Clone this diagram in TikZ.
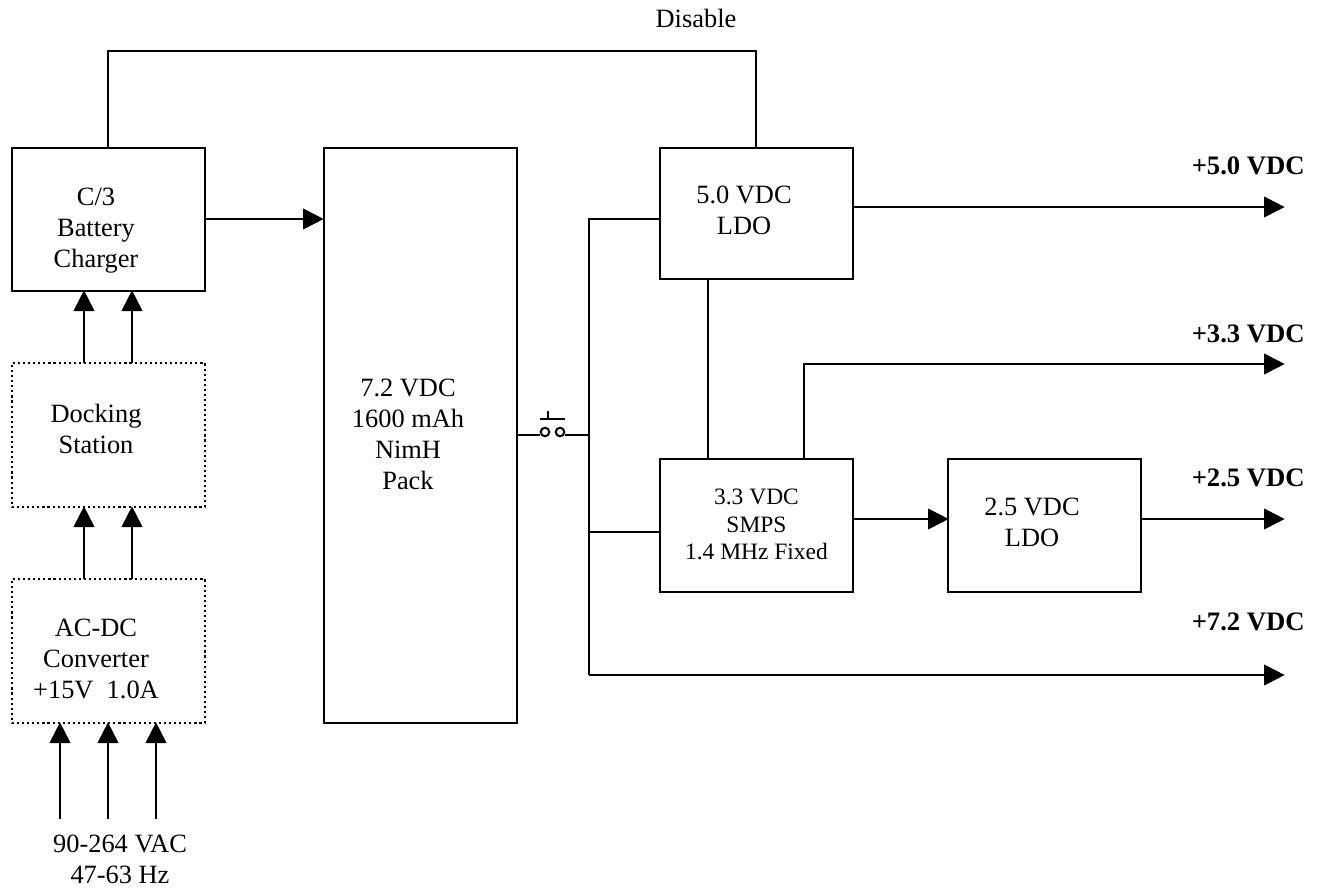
\documentclass[tikz,border=0pt]{standalone}
\usepackage{fontspec}
\setmainfont{Liberation Serif}
\usetikzlibrary{arrows.meta}
\begin{document}
\begin{tikzpicture}[x=0.75pt,y=-0.75pt,
  wire/.style={line width=1.5pt,line cap=butt},
  arr/.style={wire,-{Triangle[length=15.5pt,width=15.5pt]},shorten >=-0.5pt},
  boxa/.style={draw,line width=1.5pt,minimum width=144.75pt,inner sep=0pt},
  boxd/.style={boxa,line width=1.8pt,dash pattern=on 1.6pt off 2.2pt},
  txt/.style={inner sep=0pt,align=center,font=\fontsize{19.8}{23.25}\selectfont},
  txts/.style={inner sep=0pt,align=center,font=\fontsize{17.6}{20.6}\selectfont},
  lab/.style={inner sep=0pt,font=\fontsize{20}{23.25}\selectfont\bfseries},
  swc/.style={draw,line width=1.5pt,circle,minimum size=6.4pt,inner sep=0pt}]
\useasboundingbox (0,0) rectangle (1322,892);
\node[boxa,minimum height=107.25pt] (chg) at (108.5,219.5) {};
\node[boxa,minimum height=431.25pt] (bat) at (420.5,435.5) {};
\node[boxa,minimum height=98.25pt] (ldo5) at (756.5,213.5) {};
\node[boxa,minimum height=99.75pt] (smps) at (756.5,525.5) {};
\node[boxa,minimum height=99.75pt] (ldo25) at (1044.5,525.5) {};
\node[boxd,minimum height=108pt] (dock) at (108.5,435) {};
\node[boxd,minimum height=108pt] (acdc) at (108.5,651) {};
\node[txt] (chgT) at (96,231) {C/3\\Battery\\Charger};
\node[txt] (batT) at (408,434.5) {7.2 VDC\\1600 mAh\\NimH\\Pack};
\node[txt] (ldo5T) at (744,210) {5.0 VDC\\LDO};
\node[txts] (smpsT) at (756.5,524.5) {3.3 VDC\\SMPS\\1.4 MHz Fixed};
\node[txt] (ldo25T) at (1032,522.5) {2.5 VDC\\LDO};
\node[txt] (dockT) at (96,428.5) {Docking\\Station};
\node[txt] (acdcT) at (96,659) {AC-DC\\Converter\\+15V\,\,\,1.0A};
\node[txt] (dis) at (696,18) {Disable};
\node[txt] (vac) at (120,859) {90-264 VAC\\47-63 Hz};
\node[lab,anchor=east] (l50) at (1305,166) {+5.0 VDC};
\node[lab,anchor=east] (l33) at (1305,334) {+3.3 VDC};
\node[lab,anchor=east] (l25) at (1305,478) {+2.5 VDC};
\node[lab,anchor=east] (l72) at (1305,622) {+7.2 VDC};
% free ends
\coordinate (e50) at (1284,207);
\coordinate (e33) at (1284,364);
\coordinate (e25) at (1284,519);
\coordinate (e72) at (1284,675);
\coordinate (i1) at (60,819);
\coordinate (i2) at (108,819);
\coordinate (i3) at (156,819);
\coordinate (bus) at (589,435);
% top link
\draw[wire] (108,148) |- (756,51) -- (756,148);
% power path
\draw[arr] (chg.east |- 0,219) -- (bat.west |- 0,219);
\draw[arr] (84,363) -- (84,291);
\draw[arr] (132,363) -- (132,291);
\draw[arr] (84,579) -- (84,507);
\draw[arr] (132,579) -- (132,507);
\draw[arr] (i1) -- (60,723);
\draw[arr] (i2) -- (108,723);
\draw[arr] (i3) -- (156,723);
% switch
\node[swc] (sw1) at (545,432) {};
\node[swc] (sw2) at (560,432) {};
\coordinate (swt) at (548,411);
\coordinate (swb) at (548,419);
\draw[wire] (517,435) -- (sw1.west |- 0,435);
\draw[wire] (sw2.east |- 0,435) -- (bus);
\draw[wire] (540,419) -- (565,419);
\draw[wire] (swt) -- (swb);
% bus
\draw[wire] (660,219) -- (589,219) -- (589,675);
\draw[wire] (589,532) -- (660,532);
\draw[arr] (589,675) -- (e72);
\draw[arr] (853,207) -- (e50);
\draw[wire] (708,279) -- (708,459);
\draw[arr] (804,459) |- (e33);
\draw[arr] (853,519) -- (948,519);
\draw[arr] (1141,519) -- (e25);
\end{tikzpicture}
\end{document}
